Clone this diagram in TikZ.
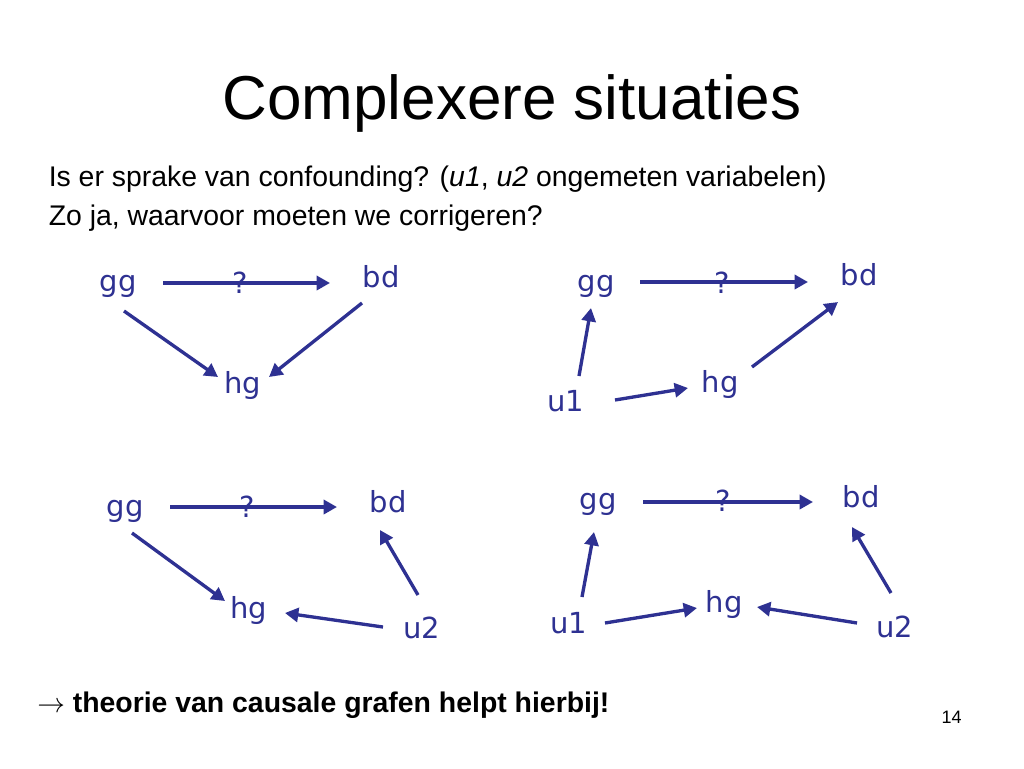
\documentclass[tikz,border=0pt]{standalone}
\usepackage{fontspec}
\setmainfont{Liberation Sans}
\newfontfamily\lblfont{DejaVu Sans}
\usetikzlibrary{arrows.meta}
\definecolor{dblue}{RGB}{46,49,146}
\begin{document}
\begin{tikzpicture}[x=0.75pt,y=-0.75pt,
  lbl/.style={font=\lblfont\fontsize{21.75}{26}\selectfont, text=dblue, anchor=base, inner sep=0pt},
  arr/.style={draw=dblue, line width=2.5pt, -{Triangle[length=10pt,width=10.5pt]}},
  body/.style={font=\fontsize{21.3}{25}\selectfont, anchor=base west, inner sep=0pt}]
\useasboundingbox[fill=white] (0,0) rectangle (1024,768);

% texts
\node[anchor=base, inner sep=0pt, font=\fontsize{46.5}{56}\selectfont] (title) at (512,119) {Complexere situaties};
\node[body] (l1) at (48.5,186) {Is er sprake van confounding? (\textit{u1}, \textit{u2} ongemeten variabelen)};
\node[body] (l2) at (48.5,225) {Zo ja, waarvoor moeten we corrigeren?};
\node[anchor=base west, inner sep=0pt, font=\bfseries\fontsize{21.3}{25}\selectfont] (foot) at (37,712) {$\rightarrow$ theorie van causale grafen helpt hierbij!};
\node[anchor=base east, inner sep=0pt, font=\fontsize{13.5}{16}\selectfont] (pg) at (962,723) {14};

% diagram 1
\node[lbl] (gg1) at (118,291) {gg};
\node[lbl] (bd1) at (381,287) {bd};
\node[lbl] (hg1) at (243,393) {hg};
\node[lbl] (q1) at (240,293) {?};
% diagram 2
\node[lbl] (gg2) at (596,291) {gg};
\node[lbl] (bd2) at (859,285) {bd};
\node[lbl] (u1a) at (566,411) {u1};
\node[lbl] (hg2) at (720,392) {hg};
\node[lbl] (q2) at (722,293) {?};
% diagram 3
\node[lbl] (gg3) at (125,516) {gg};
\node[lbl] (bd3) at (388,512) {bd};
\node[lbl] (hg3) at (249,618) {hg};
\node[lbl] (u2a) at (422,638) {u2};
\node[lbl] (q3) at (247,517) {?};
% diagram 4
\node[lbl] (gg4) at (598,509) {gg};
\node[lbl] (bd4) at (861,507) {bd};
\node[lbl] (u1b) at (569,633) {u1};
\node[lbl] (hg4) at (724,612) {hg};
\node[lbl] (u2b) at (895,637) {u2};
\node[lbl] (q4) at (723,511) {?};

% arrows diagram 1
\draw[arr] ([shift={(45,-8)}]gg1.base) -- ([shift={(-51,-4)}]bd1.base);
\draw[arr] ([shift={(6,20)}]gg1.base) -- ([shift={(-25,-16)}]hg1.base);
\draw[arr] ([shift={(-19,16)}]bd1.base) -- ([shift={(26,-16)}]hg1.base);
% arrows diagram 2
\draw[arr] ([shift={(44,-9)}]gg2.base) -- ([shift={(-51,-3)}]bd2.base);
\draw[arr] ([shift={(13,-35)}]u1a.base) -- ([shift={(-5,17)}]gg2.base);
\draw[arr] ([shift={(49,-11)}]u1a.base) -- ([shift={(-32,-4)}]hg2.base);
\draw[arr] ([shift={(32,-25)}]hg2.base) -- ([shift={(-21,17)}]bd2.base);
% arrows diagram 3
\draw[arr] ([shift={(45,-9)}]gg3.base) -- ([shift={(-51,-5)}]bd3.base);
\draw[arr] ([shift={(7,17)}]gg3.base) -- ([shift={(-24,-17)}]hg3.base);
\draw[arr] ([shift={(-4,-43)}]u2a.base) -- ([shift={(-8,18)}]bd3.base);
\draw[arr] ([shift={(-39,-11)}]u2a.base) -- ([shift={(36,-5)}]hg3.base);
% arrows diagram 4
\draw[arr] ([shift={(45,-7)}]gg4.base) -- ([shift={(-48,-5)}]bd4.base);
\draw[arr] ([shift={(13,-36)}]u1b.base) -- ([shift={(-4,23)}]gg4.base);
\draw[arr] ([shift={(36,-10)}]u1b.base) -- ([shift={(-27,-4)}]hg4.base);
\draw[arr] ([shift={(-38,-14)}]u2b.base) -- ([shift={(33,-5)}]hg4.base);
\draw[arr] ([shift={(-4,-44)}]u2b.base) -- ([shift={(-9,20)}]bd4.base);
\end{tikzpicture}
\end{document}
